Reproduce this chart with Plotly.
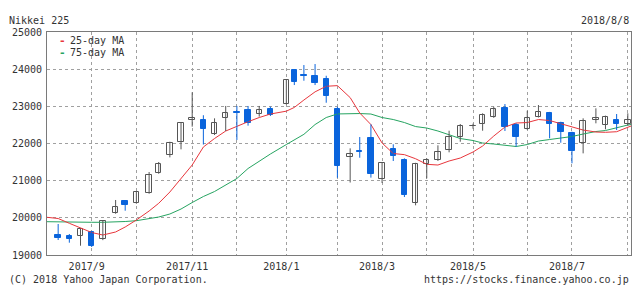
import plotly.graph_objects as go

# ---------------- data (weekly candles, Nikkei 225) ----------------
dates = ["2017-08-14", "2017-08-21", "2017-08-28", "2017-09-04", "2017-09-11", "2017-09-19",
         "2017-09-25", "2017-10-02", "2017-10-10", "2017-10-16", "2017-10-23", "2017-10-30",
         "2017-11-06", "2017-11-13", "2017-11-20", "2017-11-27", "2017-12-04", "2017-12-11",
         "2017-12-18", "2017-12-25", "2018-01-04", "2018-01-09", "2018-01-15", "2018-01-22",
         "2018-01-29", "2018-02-05", "2018-02-13", "2018-02-19", "2018-02-26", "2018-03-05",
         "2018-03-12", "2018-03-19", "2018-03-26", "2018-04-02", "2018-04-09", "2018-04-16",
         "2018-04-23", "2018-05-01", "2018-05-07", "2018-05-14", "2018-05-21", "2018-05-28",
         "2018-06-04", "2018-06-11", "2018-06-18", "2018-06-25", "2018-07-02", "2018-07-09",
         "2018-07-17", "2018-07-23", "2018-07-30", "2018-08-06"]
opens = [19538, 19511, 19503, 19627, 19422, 20122, 20453, 20391, 20676, 21214, 21689, 22036,
         22624, 22624, 22254, 22677, 22845, 22899, 22785, 22925, 23073, 23977, 23834, 23815,
         23734, 22925, 21627, 21789, 22147, 21036, 21843, 21556, 20407, 21440, 21547, 21824,
         22166, 22470, 22516, 22712, 22954, 22497, 22390, 22712, 22828, 22559, 22274, 22022,
         22624, 22489, 22631, 22532]
highs = [19834, 19565, 19699, 19640, 19933, 20480, 20470, 20703, 21233, 21502, 22048, 22560,
         23377, 22761, 22677, 23010, 23010, 23010, 23010, 22991, 23734, 23990, 24111, 24138,
         23823, 22991, 21870, 22174, 22516, 21500, 21978, 21600, 21480, 21600, 21951, 22344,
         22524, 22533, 22812, 22990, 23062, 22543, 22881, 23035, 22850, 22586, 22317, 22677,
         22946, 22750, 22793, 22812]
lows = [19403, 19331, 19250, 19215, 19400, 20110, 20192, 20380, 20648, 21187, 21627, 21843,
        22453, 21972, 22228, 22335, 22095, 22480, 22722, 22739, 23050, 23573, 23689, 23573,
        23097, 21078, 20950, 21617, 21082, 20937, 21529, 20560, 20337, 21063, 21530, 21763,
        22048, 22397, 22344, 22690, 22336, 21915, 22370, 22700, 22139, 22021, 21467, 21735,
        22543, 22381, 22362, 22478]
closes = [19457, 19438, 19691, 19250, 19909, 20296, 20356, 20690, 21155, 21457, 22008, 22539,
          22681, 22397, 22550, 22819, 22811, 22553, 22902, 22765, 23714, 23653, 23808, 23631,
          23274, 21382, 21720, 21771, 21181, 21469, 21676, 20617, 21454, 21567, 21778, 22162,
          22467, 22472, 22758, 22930, 22450, 22171, 22694, 22851, 22516, 22304, 21788, 22597,
          22697, 22712, 22525, 22644]

# moving averages sampled at the chart start, each candle, and the chart end
ma_start = "2017-08-07"
ma_end = "2018-08-08"
ma25 = [20014, 19982, 19853, 19726, 19605, 19538, 19619, 19753, 19942, 20184, 20391, 20695,
        21071, 21421, 21905, 22134, 22336, 22470, 22586, 22699, 22793, 22870, 22970, 23170,
        23390, 23540, 23557, 23235, 22820, 22510, 22013, 21730, 21700, 21590, 21440, 21421,
        21529, 21609, 21771, 21932, 22201, 22443, 22551, 22564, 22645, 22618, 22537, 22443,
        22362, 22309, 22301, 22317, 22435, 22470]
ma75 = [19896, 19888, 19880, 19880, 19880, 19880, 19888, 19901, 19923, 19968, 20022, 20103,
        20237, 20412, 20574, 20708, 20883, 21058, 21327, 21529, 21717, 21972, 22093, 22247,
        22510, 22699, 22795, 22812, 22806, 22793, 22699, 22645, 22564, 22456, 22416, 22336,
        22241, 22134, 22080, 22013, 21986, 21959, 21919, 21972, 22066, 22107, 22147, 22188,
        22255, 22322, 22349, 22430, 22497, 22510]

# first candle of each month (grid lines) and labels
month_marks = ["2017-09-04", "2017-10-02", "2017-11-06", "2017-12-04", "2018-01-04",
               "2018-02-05", "2018-03-05", "2018-04-02", "2018-05-01", "2018-06-04",
               "2018-07-02", "2018-08-06"]
month_labels = ["2017/9", "", "2017/11", "", "2018/1", "", "2018/3", "", "2018/5", "",
                "2018/7", ""]
y_ticks = [19000, 20000, 21000, 22000, 23000, 24000, 25000]
legend_names = ["25-day MA", "75-day MA"]

# ---------------- styling ----------------
W, H = 634, 285
ML, MR, MT, MB = 47, 3, 32, 30
PW, PH = W - ML - MR, H - MT - MB
FONT = "DejaVu Sans Mono"
TXT = "#333333"
UP_LINE = "#555555"
DOWN = "#0a64dc"
RED = "#e8363c"
GREEN = "#26a461"
GRID = "#a0a0a0"
FRAME = "#7a7a7a"
DAY_MS = 86400000


def px_x(p):
    return (p - ML) / PW


def px_y(p):
    return (H - MB - p) / PH


ma_dates = [ma_start] + dates + [ma_end]
up = [c >= o for o, c in zip(opens, closes)]

fig = go.Figure()

fig.add_trace(go.Scatter(x=ma_dates, y=ma75, mode="lines", line=dict(color=GREEN, width=1),
                         hoverinfo="skip", showlegend=False))
fig.add_trace(go.Scatter(x=ma_dates, y=ma25, mode="lines", line=dict(color=RED, width=1),
                         hoverinfo="skip", showlegend=False))

for is_up, col in ((True, UP_LINE), (False, DOWN)):
    wx, wy = [], []
    for d, h, l, u in zip(dates, highs, lows, up):
        if u == is_up:
            wx += [d, d, None]
            wy += [l, h, None]
    fig.add_trace(go.Scatter(x=wx, y=wy, mode="lines", line=dict(color=col, width=1),
                             hoverinfo="skip", showlegend=False))

fig.add_trace(go.Bar(
    x=dates,
    y=[max(abs(c - o), 1) for o, c in zip(opens, closes)],
    base=[min(o, c) for o, c in zip(opens, closes)],
    width=[3.4 * DAY_MS] * len(dates),
    marker=dict(color=["#ffffff" if u else DOWN for u in up],
                line=dict(color=[UP_LINE if u else DOWN for u in up], width=1)),
    showlegend=False, hoverinfo="skip"))

annotations = [
    dict(text="Nikkei 225", x=px_x(7), y=px_y(20), xanchor="left", yanchor="middle"),
    dict(text="2018/8/8", x=px_x(631), y=px_y(20), xanchor="right", yanchor="middle"),
    dict(text="(C) 2018 Yahoo Japan Corporation.", x=px_x(7), y=px_y(279),
         xanchor="left", yanchor="middle"),
    dict(text="https://stocks.finance.yahoo.co.jp", x=px_x(631), y=px_y(279),
         xanchor="right", yanchor="middle"),
]
for a in annotations:
    a["font"] = dict(family=FONT, size=10, color=TXT)

# legend: coloured dash + label
for i, (name, col) in enumerate(zip(legend_names, [RED, GREEN])):
    yy = px_y(40 + 12.5 * i)
    annotations.append(dict(text="<b>-</b>", x=px_x(57), y=yy, xanchor="left", yanchor="middle",
                            font=dict(family=FONT, size=11, color=col)))
    annotations.append(dict(text=name, x=px_x(68), y=yy, xanchor="left", yanchor="middle",
                            font=dict(family=FONT, size=10, color=TXT)))

for a in annotations:
    a.update(xref="paper", yref="paper", showarrow=False)

fig.update_layout(
    width=W, height=H,
    margin=dict(l=ML, r=MR, t=MT, b=MB, pad=0),
    paper_bgcolor="white", plot_bgcolor="white",
    font=dict(family=FONT, size=10, color=TXT),
    showlegend=False,
    annotations=annotations,
    bargap=0,
)
fig.update_xaxes(
    type="date", range=[ma_start, ma_end],
    tickmode="array", tickvals=month_marks, ticktext=month_labels,
    showgrid=True, gridcolor=GRID, gridwidth=1, griddash="3px,3px",
    showline=True, mirror=True, linecolor=FRAME, linewidth=1,
    ticks="", ticklabelshift=-5, ticklabelstandoff=2,
    zeroline=False, fixedrange=True,
)
fig.update_yaxes(
    range=[19000, 25000], tickmode="array", tickvals=y_ticks,
    ticktext=[str(v) for v in y_ticks],
    showgrid=True, gridcolor=GRID, gridwidth=1, griddash="3px,3px",
    showline=True, mirror=True, linecolor=FRAME, linewidth=1,
    ticks="", ticklabelstandoff=2,
    zeroline=False, fixedrange=True,
)

fig.write_html("out.html")
